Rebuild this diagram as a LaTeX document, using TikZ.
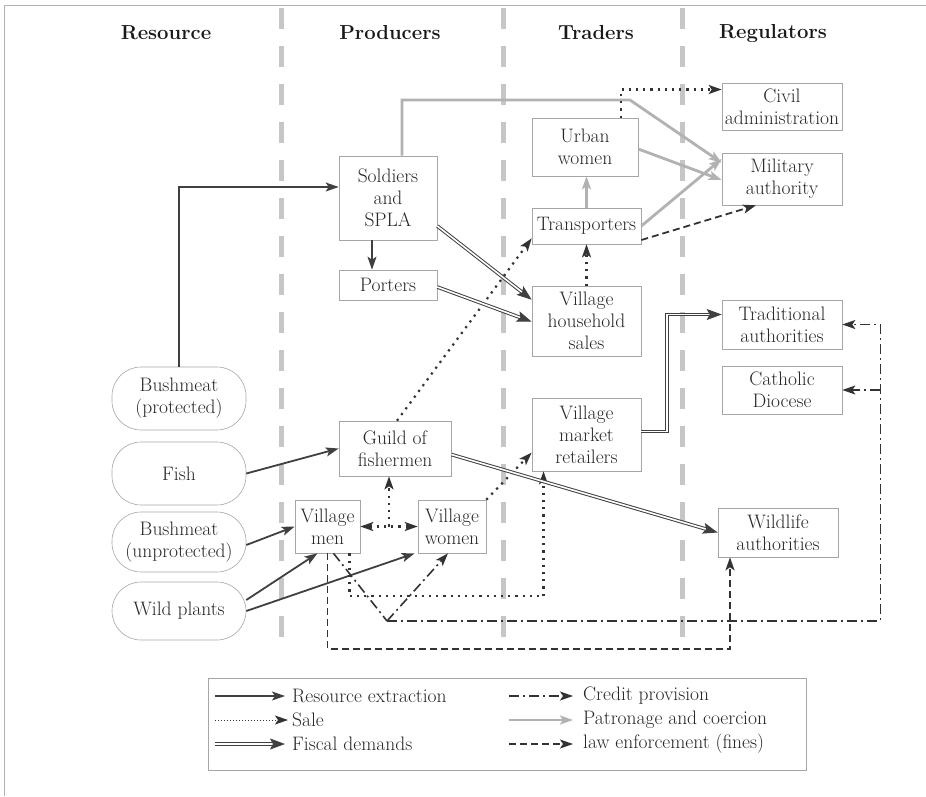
\documentclass[tikz,border=0pt]{standalone}
\usepackage{fontspec}
\usepackage{tikz}
\usetikzlibrary{arrows.meta, calc}

\tikzset{
	box/.style={draw=gray!70, line width=0.6pt, align=center, inner sep=1pt, text=black!85, font=\fontsize{19.5}{22}\selectfont},
	res/.style={box, rounded corners=29pt},
	head/.style={text=black!90, font=\fontsize{20.3}{24}\selectfont\bfseries},
	legtext/.style={text=black!85, font=\fontsize{19.5}{22}\selectfont, anchor=west, inner sep=0pt},
	tip/.style={-{Stealth[length=13pt, width=9pt, inset=3pt]}},
	extract/.style={draw=black!75, line width=1.8pt, tip},
	patron/.style={draw=gray!60, line width=2.8pt, tip},
	sale/.style={draw=black!80, line width=2.2pt, dash pattern=on 2.2pt off 5pt, tip},
	fiscal/.style={draw=black!75, double=white, double distance=1.6pt, line width=1pt, -{Stealth[length=15pt, width=11pt, inset=3pt]}},
	credit/.style={draw=black!80, line width=1.6pt, dash pattern=on 10pt off 4pt on 2pt off 4pt},
	fine/.style={draw=black!80, line width=1.8pt, dash pattern=on 7pt off 4pt, tip},
	sep/.style={draw=gray!45, line width=5pt, dash pattern=on 21pt off 17pt}
}

\begin{document}
\begin{tikzpicture}[x=1pt, y=-1pt]

	\useasboundingbox (0,0) rectangle (926,796);

% frame and column separators
	\draw[gray!60, line width=1pt] (4,796) -- (4,5) -- (926,5);
	\foreach \sx in {281, 503, 682}
		\draw[sep] (\sx,8) -- (\sx,652);

% column heads
	\node[head] (hres) at (166,33) {Resource};
	\node[head] (hpro) at (390,33) {Producers};
	\node[head] (htra) at (596,33) {Traders};
	\node[head] (hreg) at (773,33) {Regulators};

% resources
	\node[res, minimum width=134pt, minimum height=63pt] (bmp) at (179,398.5) {Bushmeat\\(protected)};
	\node[res, minimum width=134pt, minimum height=63pt] (fish) at (179,473.5) {Fish};
	\node[res, minimum width=134pt, minimum height=60pt] (bmu) at (179,542) {Bushmeat\\(unprotected)};
	\node[res, minimum width=134pt, minimum height=58pt] (wild) at (179,611) {Wild plants};

% producers
	\node[box, minimum width=98pt, minimum height=84pt] (sol) at (388,198) {Soldiers\\and\\SPLA};
	\node[box, minimum width=98pt, minimum height=30pt] (por) at (388,285) {Porters};
	\node[box, minimum width=112pt, minimum height=55pt] (gui) at (395,448.5) {Guild of\\fishermen};
	\node[box, minimum width=65pt, minimum height=53pt] (men) at (327.5,526.5) {Village\\men};
	\node[box, minimum width=68pt, minimum height=53pt] (wom) at (452,526.5) {Village\\women};

% traders
	\node[box, minimum width=106pt, minimum height=58pt] (urb) at (585,147) {Urban\\women};
	\node[box, minimum width=109pt, minimum height=36pt] (tra) at (586.5,226) {Transporters};
	\node[box, minimum width=109pt, minimum height=70pt] (hou) at (586.5,321) {Village\\household\\sales};
	\node[box, minimum width=109pt, minimum height=73pt] (mkt) at (586.5,434.5) {Village\\market\\retailers};

% regulators
	\node[box, minimum width=120pt, minimum height=47pt] (civ) at (782,106.5) {Civil\\administration};
	\node[box, minimum width=120pt, minimum height=52pt] (mil) at (782,179) {Military\\authority};
	\node[box, minimum width=120pt, minimum height=49pt] (trad) at (782,324.5) {Traditional\\authorities};
	\node[box, minimum width=120pt, minimum height=48pt] (cat) at (782,390) {Catholic\\Diocese};
	\node[box, minimum width=120pt, minimum height=49pt] (wil) at (778,532.5) {Wildlife\\authorities};

% resource extraction
	\draw[extract] (bmp.north) |- ([yshift=11pt]sol.west);
	\draw[extract] ([xshift=-16pt]sol.south) -- ([xshift=-16pt]por.north);
	\draw[extract] (fish.east) -- (gui.west);
	\draw[extract] ([yshift=-3pt]bmu.east) -- (men.west);
	\draw[extract] ([yshift=11pt]wild.east) -- ([xshift=-10pt]men.south);
	\draw[extract] (wild.east) -- ([xshift=-3pt]wom.south west);

% patronage and coercion
	\coordinate (bend) at (630,100);
	\draw[patron] ([xshift=14pt]sol.north) |- (bend) -- ([yshift=-10pt]mil.north west);
	\draw[patron] ([yshift=-2pt]urb.east) -- ([yshift=-1pt]mil.west);
	\draw[patron] (tra.east) -- ([yshift=20pt]mil.west);
	\draw[patron] (tra.north) -- (tra.north |- urb.south);

% sale
	\draw[sale] ([xshift=36pt]urb.north) |- ([yshift=17pt]civ.west);
	\draw[sale] (hou.north) -- (tra.south);
	\draw[sale] ([xshift=2pt]gui.north) -- ([yshift=6pt]tra.south west);
	\draw[sale, {Stealth[length=13pt, width=9pt, inset=3pt]}-{Stealth[length=13pt, width=9pt, inset=3pt]}] (men.east) -- (wom.west);
	\coordinate (mid) at ($(men.east)!.5!(wom.west)$);
	\draw[sale] (mid) -- (mid |- gui.south);
	\draw[sale] (wom.north east) -- ([yshift=-18pt]mkt.west);
	\coordinate (mktin) at ([xshift=-43pt]mkt.south);
	\draw[sale] ([xshift=22pt]men.south) -- ++(0,43) -| (mktin);

% fiscal demands
	\draw[fiscal] ([yshift=-28pt]sol.east) -- ([yshift=-14pt]hou.north west);
	\draw[fiscal] ([yshift=-2pt]por.east) -- ([yshift=-36pt]hou.north west);
	\coordinate (tradin) at ([yshift=10pt]trad.west);
	\draw[fiscal] ([yshift=3pt]mkt.east) -| ([xshift=-55pt]tradin) -- (tradin);
	\draw[fiscal] ([yshift=-6pt]gui.east) -- (wil.west);

% law enforcement
	\draw[fine] ([yshift=-14pt]tra.east) -- ([xshift=-26pt]mil.south);
	\draw[fine] (men.south) -- ++(0,96) -| ([xshift=-48pt]wil.south);

% credit provision
	\coordinate (cv) at (387,621);
	\draw[credit] ([xshift=6pt]men.south) -- (cv);
	\draw[credit, tip] (cv) -- ([xshift=-4pt]wom.south);
	\draw[credit, tip] (cv) -| ([xshift=38pt]trad.east) -- (trad.east);
	\draw[credit, tip] ([xshift=38pt]cat.east) -- (cat.east);

% legend
	\draw[gray!70, line width=0.6pt] (208,678) rectangle (806,770);
	\node[legtext] (l1) at (292,696) {Resource extraction};
	\node[legtext] (l2) at (292,720) {Sale};
	\node[legtext] (l3) at (292,744) {Fiscal demands};
	\node[legtext] (l4) at (583,696) {Credit provision};
	\node[legtext] (l5) at (583,720) {Patronage and coercion};
	\node[legtext] (l6) at (583,744) {law enforcement (fines)};
	\draw[extract] ([xshift=-77pt]l1.west) -- ([xshift=-7pt]l1.west);
	\draw[sale, line width=1pt, dash pattern=on 1pt off 2pt] ([xshift=-77pt]l2.west) -- ([xshift=-4pt]l2.west);
	\draw[fiscal] ([xshift=-77pt]l3.west) -- ([xshift=-7pt]l3.west);
	\draw[credit, tip] ([xshift=-74pt]l4.west) -- ([xshift=-10pt]l4.west);
	\draw[patron] ([xshift=-74pt]l5.west) -- ([xshift=-10pt]l5.west);
	\draw[fine] ([xshift=-74pt]l6.west) -- ([xshift=-10pt]l6.west);

\end{tikzpicture}
\end{document}
